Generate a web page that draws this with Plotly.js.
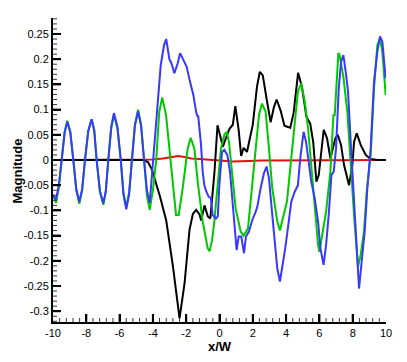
<!DOCTYPE html>
<html>
<head>
<meta charset="utf-8">
<script src="https://cdn.plot.ly/plotly-3.0.1.min.js"></script>
<style>
  html, body { margin: 0; padding: 0; background: #fff; }
  #chart { width: 407px; height: 362px; }
</style>
</head>
<body>
<div id="chart"></div>
<script>
// values
const redX = [-10, -4.8, -4, -3.4, -2.9, -2.5, -2.1, -1.7, -1.2, -0.6, 0, 0.4, 0.8, 1.3, 1.8, 2.5, 4, 6, 8, 10];
const redY = [0, 0, 0.001, 0.003, 0.006, 0.008, 0.006, 0.003, 0.002, 0.001, 0, -0.002, -0.003, -0.003, -0.002, -0.001, -0.001, -0.001, 0, 0];

const blackX = [-10, -4.6, -4.3, -4.07, -3.87, -3.57, -3.2, -2.8, -2.4, -2.1, -1.8, -1.6, -1.4, -1.2, -1.1, -0.9,
  -0.7, -0.55, -0.3, -0.12, 0.1, 0.2, 0.4, 0.6, 0.8, 0.95, 1.15, 1.3, 1.45, 1.65, 2.0, 2.25, 2.42, 2.6, 2.83,
  3.07, 3.27, 3.43, 3.67, 3.9, 4.07, 4.25, 4.45, 4.72, 4.95, 5.22, 5.45, 5.63, 5.82, 5.96, 6.26, 6.46, 6.66,
  6.96, 7.1, 7.3, 7.48, 7.78, 7.98, 8.08, 8.24, 8.48, 8.78, 9.08, 9.5, 10];
const blackY = [0, 0, -0.004, -0.018, -0.04, -0.073, -0.12, -0.21, -0.314, -0.245, -0.138, -0.107, -0.099, -0.108, -0.12, -0.09,
  -0.112, -0.116, -0.023, 0.069, 0.04, 0.026, 0.045, 0.062, 0.07, 0.107, 0.06, 0.008, 0.024, 0.016, 0.07, 0.145, 0.175, 0.168, 0.121,
  0.075, 0.105, 0.12, 0.098, 0.068, 0.066, 0.064, 0.093, 0.173, 0.145, 0.086, 0.072, 0.035, -0.043, -0.03, 0.06, 0.043, 0.003,
  0.043, 0.05, 0.03, -0.01, -0.05, -0.01, 0.036, 0.053, 0.03, 0.01, 0.002, 0, 0];

const greenX = [-10, -9.82, -9.65, -9.48, -9.3, -9.14, -8.96, -8.78, -8.6, -8.42, -8.25, -8.08, -7.88, -7.68, -7.52,
  -7.38, -7.18, -6.98, -6.83, -6.68, -6.5, -6.34, -6.13, -5.93, -5.77, -5.6, -5.43, -5.26, -5.08, -4.89, -4.71,
  -4.53, -4.36, -4.19, -4.0, -3.8, -3.62, -3.44, -3.21, -2.91, -2.61, -2.45, -2.21, -1.91, -1.73, -1.51, -1.31,
  -1.01, -0.71, -0.6, -0.45, -0.31, -0.11, 0.09, 0.29, 0.43, 0.57, 0.77, 0.97, 1.27, 1.45, 1.71, 1.97, 2.17,
  2.37, 2.55, 2.77, 2.97, 3.17, 3.47, 3.63, 3.77, 4.05, 4.25, 4.46, 4.71, 4.91, 5.12, 5.32, 5.51, 5.72, 5.92,
  6.0, 6.2, 6.4, 6.66, 6.84, 6.92, 7.14, 7.2, 7.44, 7.68, 7.88, 8.08, 8.32, 8.48, 8.68, 8.84, 9.08, 9.28, 9.48,
  9.64, 9.78, 9.98];
const greenY = [-0.07, -0.085, -0.055, 0, 0.055, 0.078, 0.055, 0, -0.06, -0.087, -0.06, 0, 0.058, 0.081, 0.058,
  0, -0.063, -0.089, -0.063, 0, 0.064, 0.09, 0.062, 0, -0.065, -0.093, -0.065, 0, 0.07, 0.1, 0.07,
  0, -0.07, -0.099, -0.06, 0, 0.095, 0.124, 0.089, -0.01, -0.109, -0.109, -0.056, 0.023, 0.044, 0.023, -0.043,
  -0.122, -0.175, -0.181, -0.16, -0.122, -0.043, 0.023, 0.05, 0.056, 0.036, -0.03, -0.096, -0.142, -0.15, -0.136, -0.043, 0.03,
  0.089, 0.112, 0.096, 0.023, -0.056, -0.122, -0.14, -0.12, -0.083, -0.016, 0.05, 0.136, 0.152, 0.116, 0.063, -0.016, -0.089, -0.169,
  -0.182, -0.142, -0.103, -0.023, 0.089, 0.089, 0.212, 0.21, 0.165, 0.095, -0.01, -0.109, -0.212, -0.188, -0.142, -0.063, 0.01, 0.142, 0.228,
  0.241, 0.215, 0.129];

const blueX = [-10, -9.82, -9.65, -9.48, -9.3, -9.14, -8.96, -8.78, -8.6, -8.42, -8.25, -8.08, -7.88, -7.68, -7.52,
  -7.38, -7.18, -6.98, -6.83, -6.68, -6.5, -6.34, -6.13, -5.93, -5.77, -5.6, -5.43, -5.26, -5.08, -4.89, -4.71,
  -4.53, -4.36, -4.19, -3.99, -3.74, -3.53, -3.33, -3.2, -3.01, -2.9, -2.71, -2.51, -2.37, -2.17, -1.97, -1.77,
  -1.57, -1.4, -1.32, -1.28, -1.11, -1.01, -0.91, -0.8, -0.65, -0.52, -0.41, -0.21, -0.1, -0.01, 0.15, 0.29,
  0.47, 0.63, 0.77, 0.91, 1.03, 1.15, 1.31, 1.47, 1.59, 1.77, 1.97, 2.17, 2.27, 2.47, 2.67, 2.83, 2.97, 3.17,
  3.33, 3.47, 3.63, 3.77, 3.95, 4.16, 4.31, 4.52, 4.71, 4.85, 5.05, 5.2, 5.36, 5.51, 5.72, 5.92, 6.06, 6.25,
  6.4, 6.56, 6.72, 6.86, 7.0, 7.16, 7.3, 7.44, 7.58, 7.72, 7.88, 8.04, 8.18, 8.38, 8.58, 8.72, 8.88, 9.08,
  9.28, 9.48, 9.64, 9.78, 9.98];
const blueY = [-0.069, -0.079, -0.05, 0, 0.055, 0.076, 0.055, 0, -0.058, -0.083, -0.058, 0, 0.058, 0.081, 0.058,
  0, -0.062, -0.086, -0.062, 0, 0.066, 0.093, 0.066, 0, -0.068, -0.098, -0.068, 0, 0.068, 0.097, 0.068,
  0, -0.06, -0.085, 0, 0.089, 0.188, 0.228, 0.24, 0.2, 0.193, 0.172, 0.192, 0.212, 0.198, 0.185, 0.155,
  0.129, 0.095, 0.086, 0.088, 0.03, -0.023, -0.05, -0.062, -0.073, -0.075, -0.109, -0.116, -0.112, -0.05, 0.016, 0.02,
  0.01, -0.023, -0.083, -0.136, -0.179, -0.152, -0.152, -0.185, -0.152, -0.142, -0.119, -0.103, -0.093, -0.056, -0.026, -0.013, -0.036, -0.109,
  -0.175, -0.215, -0.241, -0.215, -0.175, -0.122, -0.083, -0.063, -0.05, 0.003, 0.056, 0.036, -0.003, -0.043, -0.076, -0.122, -0.175, -0.208,
  -0.169, -0.109, -0.03, -0.023, 0.023, 0.14, 0.195, 0.208, 0.175, 0.136, 0.036, -0.056, -0.142, -0.255, -0.188, -0.142, -0.056, 0.023,
  0.155, 0.215, 0.245, 0.235, 0.162];

const xTickVals = [-10, -8, -6, -4, -2, 0, 2, 4, 6, 8, 10];
const xTickText = ["-10", "-8", "-6", "-4", "-2", "0", "2", "4", "6", "8", "10"];
const yTickVals = [-0.3, -0.25, -0.2, -0.15, -0.1, -0.05, 0, 0.05, 0.1, 0.15, 0.2, 0.25];
const yTickText = ["-0.3", "-0.25", "-0.2", "-0.15", "-0.1", "-0.05", "0", "0.05", "0.1", "0.15", "0.2", "0.25"];

const X_RANGE = [-10, 10];
const Y_RANGE = [-0.3214, 0.2817];
const FONT = "Liberation Sans, Arial, sans-serif";

// plotly prints a unicode minus; swap it for a plain hyphen like the original
function hyphenAlias(labels) {
  const alias = {};
  labels.forEach(t => {
    if (t.startsWith("-")) alias["\u2212" + t.slice(1)] = t;
  });
  return alias;
}

function lineTrace(x, y, color) {
  return {
    x: x,
    y: y,
    type: "scatter",
    mode: "lines",
    line: { color: color, width: 2 },
    hoverinfo: "skip"
  };
}

const traces = [
  lineTrace(redX, redY, "#e01010"),
  lineTrace(blackX, blackY, "#000000"),
  lineTrace(greenX, greenY, "#00c800"),
  lineTrace(blueX, blueY, "#3838ff")
];

// inside tick marks, drawn as shapes so they always show up
const PLOT_W = 333;
const PLOT_H = 304;

function tickShapes() {
  const shapes = [];
  const xMinor = [];
  for (let i = 0; i < xTickVals.length - 1; i++) {
    const step = (xTickVals[i + 1] - xTickVals[i]) / 5;
    for (let k = 1; k < 5; k++) xMinor.push(xTickVals[i] + k * step);
  }
  const yMinor = [];
  const yStep = (yTickVals[1] - yTickVals[0]) / 5;
  for (let v = yTickVals[0] - 2 * yStep; v < Y_RANGE[1]; v += yStep) {
    const isMajor = yTickVals.some(m => Math.abs(m - v) < 1e-6);
    if (!isMajor && v > Y_RANGE[0] + 1e-4) yMinor.push(v);
  }

  xTickVals.slice(1, -1).forEach(v => shapes.push({
    type: "line", xref: "x", yref: "paper", x0: v, x1: v, y0: 0, y1: 8 / PLOT_H,
    line: { color: "#000", width: 2 }
  }));
  xMinor.forEach(v => shapes.push({
    type: "line", xref: "x", yref: "paper", x0: v, x1: v, y0: 0, y1: 4 / PLOT_H,
    line: { color: "#333", width: 1 }
  }));
  yTickVals.forEach(v => shapes.push({
    type: "line", xref: "paper", yref: "y", x0: 0, x1: 8 / PLOT_W, y0: v, y1: v,
    line: { color: "#000", width: 2 }
  }));
  yMinor.forEach(v => shapes.push({
    type: "line", xref: "paper", yref: "y", x0: 0, x1: 4 / PLOT_W, y0: v, y1: v,
    line: { color: "#333", width: 1 }
  }));
  return shapes;
}

const axisCommon = {
  showgrid: false,
  zeroline: false,
  showline: true,
  linecolor: "#000",
  linewidth: 2,
  ticks: "inside",
  ticklen: 8,
  tickwidth: 2,
  tickcolor: "#000",
  tickfont: { family: FONT, size: 11, color: "#000" },
  tickmode: "array"
};

const layout = {
  width: 407,
  height: 362,
  margin: { l: 53, r: 21, t: 18, b: 40 },
  paper_bgcolor: "#fff",
  plot_bgcolor: "#fff",
  showlegend: false,
  font: { family: FONT, color: "#000" },
  xaxis: Object.assign({}, axisCommon, {
    range: X_RANGE,
    tickvals: xTickVals,
    ticktext: xTickText,
    labelalias: hyphenAlias(xTickText)
  }),
  yaxis: Object.assign({}, axisCommon, {
    range: Y_RANGE,
    tickvals: yTickVals,
    ticktext: yTickText,
    labelalias: hyphenAlias(yTickText)
  }),
  shapes: tickShapes(),
  annotations: [
    {
      text: "<b>x/W</b>", xref: "paper", yref: "paper", x: 0.5, y: -0.08,
      xanchor: "center", yanchor: "middle", showarrow: false,
      font: { family: FONT, size: 13, color: "#000" }
    },
    {
      text: "<b>Magnitude</b>", xref: "paper", yref: "paper", x: -0.108, y: 0.495,
      xanchor: "center", yanchor: "middle", showarrow: false, textangle: -90,
      font: { family: FONT, size: 13, color: "#000" }
    }
  ]
};

Plotly.newPlot("chart", traces, layout, { displayModeBar: false, staticPlot: true });
</script>
</body>
</html>
